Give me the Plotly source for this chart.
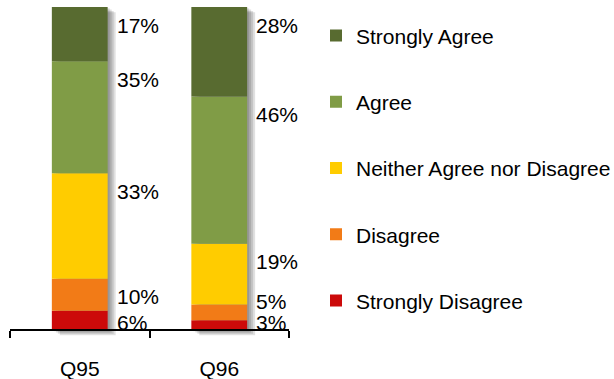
import plotly.graph_objects as go

# Survey responses (percent of respondents)
questions = ["Q95", "Q96"]
levels = ["Strongly Disagree", "Disagree", "Neither Agree nor Disagree", "Agree", "Strongly Agree"]
strongly_disagree = [6, 3]
disagree = [10, 5]
neither = [33, 19]
agree = [35, 46]
strongly_agree = [17, 28]
colors = ["#CC0A0A", "#F27B17", "#FFCC00", "#809C46", "#586B30"]

series = [strongly_disagree, disagree, neither, agree, strongly_agree]

W, H = 614, 379
margin = dict(l=10, r=325, t=7, b=42, autoexpand=False)
plot_w = W - margin["l"] - margin["r"]
plot_h = H - margin["t"] - margin["b"]

totals = [sum(s[i] for s in series) for i in range(len(questions))]
y_top = max(totals)
y_bottom = -2.2
units_per_px_y = (y_top - y_bottom) / plot_h
units_per_px_x = len(questions) / plot_w

bar_w = 0.4
FONT = "Liberation Sans, Arial"
fig = go.Figure()

# soft drop shadow behind each column
for k in range(1, 5):
    fig.add_trace(go.Bar(
        x=questions, y=totals,
        base=[-1.3 * k * units_per_px_y] * len(questions),
        width=bar_w, offset=-bar_w / 2 + 2 * k * units_per_px_x,
        marker=dict(color="rgba(0,0,0,0.12)", line=dict(width=0)),
        showlegend=False, hoverinfo="skip",
    ))

# stacked segments
cum = [0] * len(questions)
bases = []
for name, vals, col, rank in zip(levels, series, colors, range(5, 0, -1)):
    bases.append(list(cum))
    fig.add_trace(go.Bar(
        x=questions, y=vals, base=list(cum), name=name,
        width=bar_w, offset=-bar_w / 2,
        marker=dict(color=col, line=dict(width=0)),
        legendgroup=name, legendrank=rank,
    ))
    cum = [c + v for c, v in zip(cum, vals)]

# value labels to the right of each column, near the top of each segment,
# nudged upward where small segments would make them collide
px = 1 / units_per_px_y
for i, q in enumerate(questions):
    prev = None
    for vals, base in zip(series, bases):
        top = base[i] + vals[i]
        want = top - 18 / px
        c = max(want, 7.5 / px) if prev is None else max(want, prev + 21 / px)
        prev = c
        fig.add_annotation(
            x=i + bar_w / 2, y=c, xref="x", yref="y",
            text=f"{vals[i]}%", showarrow=False,
            xanchor="left", yanchor="middle", xshift=7,
            font=dict(family=FONT, size=21, color="#000000"),
        )

axis_pos = (0 - y_bottom) / (y_top - y_bottom)

fig.update_layout(
    width=W, height=H, margin=margin,
    barmode="overlay",
    paper_bgcolor="white", plot_bgcolor="white",
    font=dict(family=FONT, size=21, color="#000000"),
    xaxis=dict(
        type="category", categoryorder="array", categoryarray=questions,
        range=[-0.5, len(questions) - 0.5],
        anchor="free", position=axis_pos, automargin=False,
        showline=True, linecolor="#000000", linewidth=2,
        ticks="outside", tickson="boundaries", ticklen=7, tickwidth=1.5, tickcolor="#000000",
        ticklabelstandoff=20,
        showgrid=False, zeroline=False,
        tickfont=dict(family=FONT, size=21),
    ),
    yaxis=dict(range=[y_bottom, y_top], visible=False, showgrid=False,
               zeroline=False, automargin=False),
    legend=dict(
        x=(316 - margin["l"]) / plot_w, xanchor="left",
        y=0.975, yanchor="top",
        traceorder="grouped", tracegroupgap=36,
        font=dict(family=FONT, size=21), bgcolor="rgba(0,0,0,0)",
    ),
    showlegend=True,
)

fig.write_html("out.html")
